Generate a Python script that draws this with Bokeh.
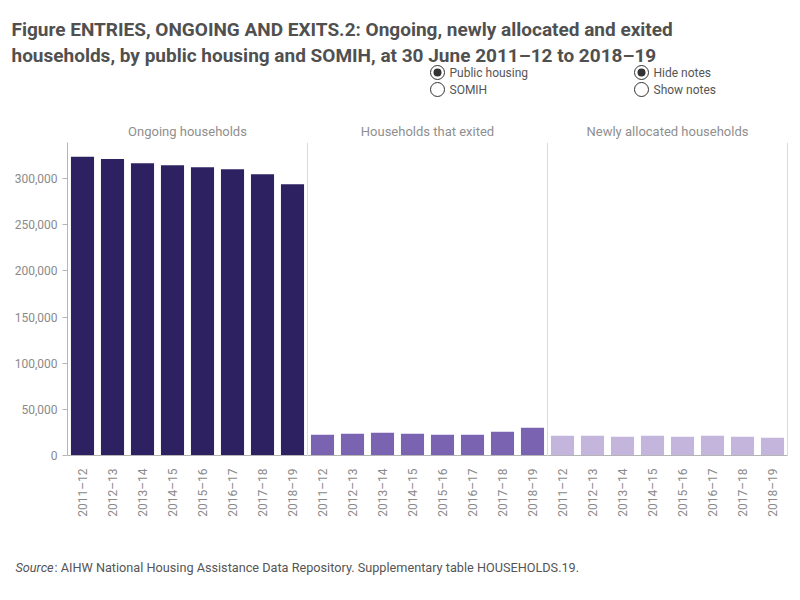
from bokeh.plotting import figure
from bokeh.layouts import column, row
from bokeh.models import (Range1d, FactorRange, Span, Title, Label,
                          NumeralTickFormatter, FixedTicker, ColumnDataSource)
from bokeh.embed import file_html
from bokeh.resources import INLINE
import math

FONT = "Roboto"

# ---- data ----
years = ["2011–12", "2012–13", "2013–14", "2014–15",
         "2015–16", "2016–17", "2017–18", "2018–19"]
panels = ["Ongoing households", "Households that exited", "Newly allocated households"]
ongoing = [323500, 321000, 316600, 314400, 312300, 310100, 304700, 293800]
exited = [22500, 23600, 24600, 23600, 22500, 22500, 25700, 30100]
newly = [21400, 21400, 20300, 21400, 20300, 21400, 20300, 19200]
y_ticks = [0, 50000, 100000, 150000, 200000, 250000, 300000]
colors = ["#2e2162", "#7a63b0", "#c3b5db"]

AXIS_COL = "#b5b5b5"
LABEL_COL = "#8a8a8a"
YMAX = 339000

# ---- header ----
h = figure(width=800, height=112, x_range=Range1d(0, 800), y_range=Range1d(112, 0),
           output_backend="svg", toolbar_location=None, min_border=0,
           x_axis_type=None, y_axis_type=None)
h.grid.visible = False
h.outline_line_color = None
h.add_layout(Label(x=11, y=29, text="Figure ENTRIES, ONGOING AND EXITS.2: Ongoing, newly allocated and exited",
                   text_font=FONT, text_font_size="19px", text_font_style="bold",
                   text_color="#505050", text_baseline="alphabetic"))
h.add_layout(Label(x=11, y=55, text="households, by public housing and SOMIH, at 30 June 2011–12 to 2018–19",
                   text_font=FONT, text_font_size="19px", text_font_style="bold",
                   text_color="#505050", text_baseline="alphabetic"))
h.scatter(x=[437, 437, 641, 641], y=[72, 89, 72, 89], size=14,
          fill_color="white", line_color="#333333", line_width=1)
h.scatter(x=[437, 641], y=[72, 72], size=8, fill_color="#333333", line_color=None)
for (tx, ty, t) in [(449, 72, "Public housing"), (449, 89, "SOMIH"),
                    (653, 72, "Hide notes"), (653, 89, "Show notes")]:
    h.add_layout(Label(x=tx, y=ty, text=t, text_font=FONT, text_font_size="12px",
                       text_color="#555555", text_baseline="middle"))

# ---- panels ----
figs = []
for i, (name, vals, col) in enumerate(zip(panels, [ongoing, exited, newly], colors)):
    left = 67 if i == 0 else 0
    right = 13 if i == 2 else 0
    p = figure(width=240 + left + right, height=418,
               x_range=FactorRange(factors=years, range_padding=0),
               y_range=Range1d(0, YMAX),
               output_backend="svg", toolbar_location=None,
               min_border_left=left, min_border_right=right,
               min_border_top=30, min_border_bottom=75)
    p.title.text = name
    p.title.align = "center"
    p.title.text_font = FONT
    p.title.text_font_size = "13px"
    p.title.text_font_style = "normal"
    p.title.text_color = "#8f8f8f"
    p.title.standoff = 8
    p.outline_line_color = None
    p.grid.visible = False
    src = ColumnDataSource(dict(year=years, val=vals))
    p.vbar(x="year", top="val", width=0.77, source=src, fill_color=col, line_color=None)

    p.xaxis.major_label_orientation = math.pi / 2
    p.xaxis.major_tick_line_color = None
    p.xaxis.minor_tick_line_color = None
    p.xaxis.axis_line_color = AXIS_COL
    p.xaxis.major_label_text_font = FONT
    p.xaxis.major_label_text_font_size = "12px"
    p.xaxis.major_label_text_color = LABEL_COL
    p.xaxis.major_label_standoff = 7

    if i == 0:
        p.yaxis.ticker = FixedTicker(ticks=y_ticks)
        p.yaxis.formatter = NumeralTickFormatter(format="0,0")
        p.yaxis.axis_line_color = AXIS_COL
        p.yaxis.major_tick_line_color = AXIS_COL
        p.yaxis.major_tick_out = 5
        p.yaxis.major_tick_in = 0
        p.yaxis.minor_tick_line_color = None
        p.yaxis.major_label_text_font = FONT
        p.yaxis.major_label_text_font_size = "12px"
        p.yaxis.major_label_text_color = LABEL_COL
        p.yaxis.major_label_standoff = 5
    else:
        p.yaxis.visible = False
        p.add_layout(Span(location=0, dimension="height", line_color=AXIS_COL, line_width=1))
    if i == 2:
        p.add_layout(Span(location=len(years), dimension="height", line_color=AXIS_COL, line_width=1))
    figs.append(p)

# ---- footer ----
f = figure(width=800, height=76, x_range=Range1d(0, 800), y_range=Range1d(76, 0),
           output_backend="svg", toolbar_location=None, min_border=0,
           x_axis_type=None, y_axis_type=None)
f.grid.visible = False
f.outline_line_color = None
f.add_layout(Label(x=15, y=37, text="Source", text_font=FONT, text_font_size="12.7px",
                   text_font_style="italic", text_color="#555555", text_baseline="middle"))
f.add_layout(Label(x=54, y=37, text=": AIHW National Housing Assistance Data Repository. Supplementary table HOUSEHOLDS.19.",
                   text_font=FONT, text_font_size="12.7px",
                   text_color="#555555", text_baseline="middle"))

layout = column(h, row(*figs), f)
open("out.html", "w").write(file_html(layout, INLINE))
